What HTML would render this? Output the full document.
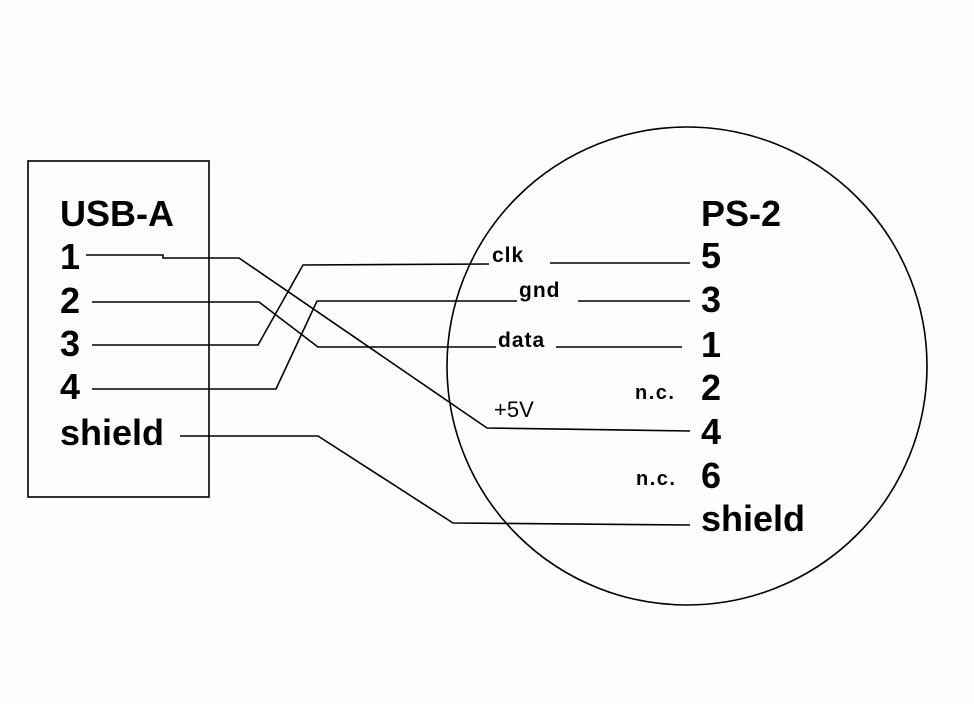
<!DOCTYPE html>
<html><head><meta charset="utf-8"><style>body{margin:0;background:#fff}</style></head>
<body>
<svg width="974" height="700" viewBox="0 0 974 700" xmlns="http://www.w3.org/2000/svg">
<rect width="974" height="700" fill="#fdfdfd"/>
<g fill="none" stroke="#000" stroke-width="1.6">
<rect x="28" y="161" width="181" height="336"/>
<ellipse cx="687" cy="366" rx="240" ry="239"/>
<polyline points="86,255 163,255 163,258 239,258 487,428 690,431"/>
<polyline points="92,302 259,302 318,347 496,347"/>
<line x1="556" y1="347" x2="682" y2="347"/>
<polyline points="92,345 258,345 303,265 489,264"/>
<line x1="550" y1="263" x2="690" y2="263"/>
<polyline points="92,389 276,389 317,301 517,301"/>
<line x1="578" y1="301" x2="690" y2="301"/>
<polyline points="180,436 318,436 453,523 690,525"/>
</g>
<g font-family="Liberation Sans, sans-serif" font-weight="bold" font-size="36" fill="#000">
<text x="60" y="226">USB-A</text>
<text x="60" y="269">1</text>
<text x="60" y="313">2</text>
<text x="60" y="356">3</text>
<text x="60" y="399">4</text>
<text x="60" y="445">shield</text>
<text x="701" y="226">PS-2</text>
<text x="701" y="268">5</text>
<text x="701" y="312">3</text>
<text x="701" y="357">1</text>
<text x="701" y="400">2</text>
<text x="701" y="444">4</text>
<text x="701" y="488">6</text>
<text x="701" y="531">shield</text>
</g>
<g font-family="Liberation Sans, sans-serif" font-weight="bold" font-size="21" fill="#000" letter-spacing="1">
<text x="492" y="262">clk</text>
<text x="519" y="297">gnd</text>
<text x="498" y="347">data</text>
</g>
<g font-family="Liberation Sans, sans-serif" font-weight="bold" font-size="20" fill="#000" letter-spacing="1.5">
<text x="635" y="399">n.c.</text>
<text x="636" y="485">n.c.</text>
</g>
<text x="494" y="417" font-family="Liberation Sans, sans-serif" font-size="22" fill="#000">+5V</text>
</svg>
</body></html>
